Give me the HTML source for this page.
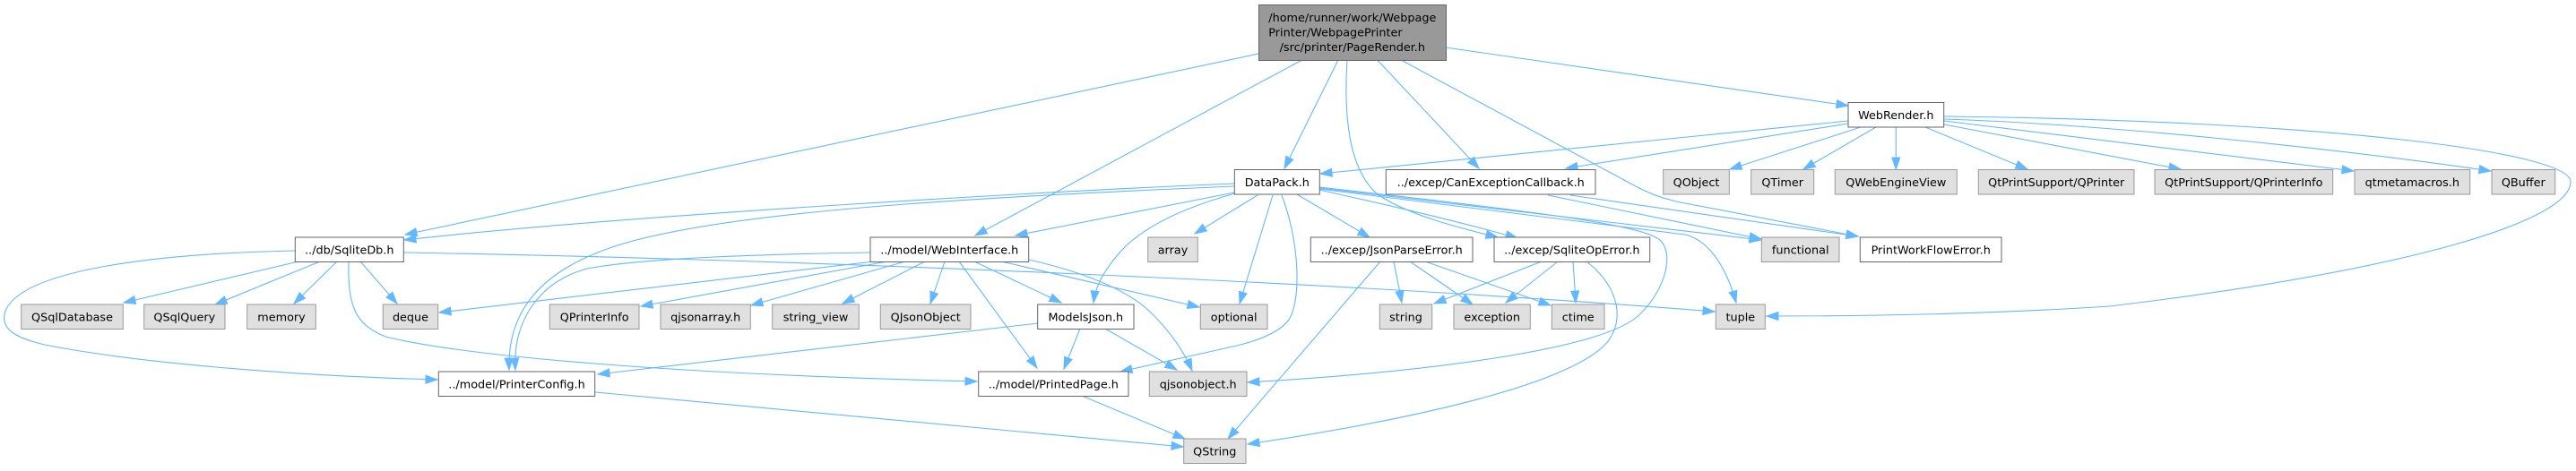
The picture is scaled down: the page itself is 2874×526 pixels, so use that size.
<!DOCTYPE html>
<html>
<head>
<meta charset="utf-8">
<style>
html,body{margin:0;padding:0;background:#fff;}
body{width:2874px;height:526px;overflow:hidden;}
svg{display:block;}
.e{fill:none;stroke:#63b8ff;stroke-width:1.1;}
.w{fill:#ffffff;stroke:#666666;stroke-width:1;}
.g{fill:#e0e0e0;stroke:#999999;stroke-width:1;}
.r{fill:#999999;stroke:#666666;stroke-width:1;}
text{font-family:"DejaVu Sans","Liberation Sans",sans-serif;font-size:12.8px;fill:#000;}
.c{text-anchor:middle;}
</style>
</head>
<body>
<svg width="2874" height="526" viewBox="0 0 2874 526" xmlns="http://www.w3.org/2000/svg">
<defs>
<marker id="ah" markerUnits="userSpaceOnUse" markerWidth="16" markerHeight="12" refX="13" refY="5" orient="auto" viewBox="0 0 16 12" overflow="visible">
<path d="M0,0.5 L13,5 L0,9.5 Z" fill="#63b8ff" stroke="#63b8ff" stroke-width="1"/>
</marker>
</defs>

<!-- ===== Edges ===== -->
<g class="edges">
<!-- PageRender -->
<path class="e" marker-end="url(#ah)" d="M1404,60 L452,262"/>
<path class="e" marker-end="url(#ah)" d="M1452.7,67 L1088,263"/>
<path class="e" marker-end="url(#ah)" d="M1493,67 L1433,188"/>
<path class="e" marker-end="url(#ah)" d="M1503,67 C1499,130 1505,190 1537,217 C1570,240 1630,255 1671,265"/>
<path class="e" marker-end="url(#ah)" d="M1536.7,67 L1650,188"/>
<path class="e" marker-end="url(#ah)" d="M1565,68 L1825,208 Q1845,219 1870,225 L2073,264"/>
<path class="e" marker-end="url(#ah)" d="M1613,53 L2062,118"/>

<!-- WebRender -->
<path class="e" marker-end="url(#ah)" d="M2062,135 L1473,194"/>
<path class="e" marker-end="url(#ah)" d="M2062,138 L1747,188"/>
<path class="e" marker-end="url(#ah)" d="M2076,142 L1930,189"/>
<path class="e" marker-end="url(#ah)" d="M2093,142 L2012,189"/>
<path class="e" marker-end="url(#ah)" d="M2115.3,142 L2115.3,189"/>
<path class="e" marker-end="url(#ah)" d="M2148,142 L2262,189"/>
<path class="e" marker-end="url(#ah)" d="M2169,139 L2433,189"/>
<path class="e" marker-end="url(#ah)" d="M2169,135 L2626,191"/>
<path class="e" marker-end="url(#ah)" d="M2169,133 C2350,139 2600,165 2779,191"/>
<path class="e" marker-end="url(#ah)" d="M2169,130 C2600,135 2868,170 2868,203 C2868,245 2700,300 2354,342 C2200,352 2050,353 1971,353"/>

<!-- DataPack -->
<path class="e" marker-end="url(#ah)" d="M1377,205 C1200,212 700,240 451,268"/>
<path class="e" marker-end="url(#ah)" d="M1377,208 C1100,220 800,235 680,277 C600,305 566,350 568,413"/>
<path class="e" marker-end="url(#ah)" d="M1377,215 L1133,263"/>
<path class="e" marker-end="url(#ah)" d="M1378,216 C1320,232 1270,255 1245,287 C1228,308 1222,322 1220,338"/>
<path class="e" marker-end="url(#ah)" d="M1403,218 L1333,261"/>
<path class="e" marker-end="url(#ah)" d="M1420,218 L1383,339"/>
<path class="e" marker-end="url(#ah)" d="M1430,218 C1450,270 1452,335 1438,357 Q1425,375 1380,386 L1250,415"/>
<path class="e" marker-end="url(#ah)" d="M1447,217 L1528,265"/>
<path class="e" marker-end="url(#ah)" d="M1472,212 C1530,225 1620,245 1693,266"/>
<path class="e" marker-end="url(#ah)" d="M1472,210 L1965,268"/>
<path class="e" marker-end="url(#ah)" d="M1472,209 C1700,235 1830,250 1852,268 C1870,285 1855,330 1825,355 C1780,390 1600,415 1392,427"/>
<path class="e" marker-end="url(#ah)" d="M1472,211 L1880,262 C1905,268 1925,295 1937,338"/>

<!-- CanExceptionCallback -->
<path class="e" marker-end="url(#ah)" d="M1727,218 L1965,267"/>
<path class="e" marker-end="url(#ah)" d="M1752,218 L2073,264"/>

<!-- WebInterface -->
<path class="e" marker-end="url(#ah)" d="M971,282 C850,284 720,288 655,300 C600,315 572,360 575,413"/>
<path class="e" marker-end="url(#ah)" d="M975,292 L490,349"/>
<path class="e" marker-end="url(#ah)" d="M990,292 L715,342"/>
<path class="e" marker-end="url(#ah)" d="M1010,292 L838,341"/>
<path class="e" marker-end="url(#ah)" d="M1032,292 L940,339"/>
<path class="e" marker-end="url(#ah)" d="M1054,292 L1038,339"/>
<path class="e" marker-end="url(#ah)" d="M1070,292 L1157,411"/>
<path class="e" marker-end="url(#ah)" d="M1087,292 L1184,338"/>
<path class="e" marker-end="url(#ah)" d="M1117,292 L1338,343"/>
<path class="e" marker-end="url(#ah)" d="M1148,290 C1200,302 1255,320 1285,350 C1305,370 1320,390 1330,414"/>

<!-- SqliteDb -->
<path class="e" marker-end="url(#ah)" d="M333,292 L138,338"/>
<path class="e" marker-end="url(#ah)" d="M357,292 L240,340"/>
<path class="e" marker-end="url(#ah)" d="M376,292 L328,339"/>
<path class="e" marker-end="url(#ah)" d="M402,292 L443,339"/>
<path class="e" marker-end="url(#ah)" d="M450,282 C900,290 1500,315 1913,348"/>
<path class="e" marker-end="url(#ah)" d="M329,280 C180,283 30,300 7,345 C-3,368 20,378 50,385 C150,405 330,420 488,424"/>
<path class="e" marker-end="url(#ah)" d="M389,292 C388,340 395,362 430,376 C520,398 750,418 1090,426"/>

<!-- ModelsJson -->
<path class="e" marker-end="url(#ah)" d="M1158,361 L667,418"/>
<path class="e" marker-end="url(#ah)" d="M1205,367 L1187,412"/>
<path class="e" marker-end="url(#ah)" d="M1233,367 L1313,413"/>

<!-- PrinterConfig / PrintedPage -->
<path class="e" marker-end="url(#ah)" d="M664,438 L1320,499"/>
<path class="e" marker-end="url(#ah)" d="M1207,442 L1322,490"/>

<!-- JsonParseError -->
<path class="e" marker-end="url(#ah)" d="M1540,292 L1370,490"/>
<path class="e" marker-end="url(#ah)" d="M1555,292 L1564,338"/>
<path class="e" marker-end="url(#ah)" d="M1573,292 L1643,340"/>
<path class="e" marker-end="url(#ah)" d="M1590,292 L1730,341"/>

<!-- SqliteOpError -->
<path class="e" marker-end="url(#ah)" d="M1720,292 L1600,339"/>
<path class="e" marker-end="url(#ah)" d="M1738,292 L1680,338"/>
<path class="e" marker-end="url(#ah)" d="M1755,292 L1758,338"/>
<path class="e" marker-end="url(#ah)" d="M1770,292 C1800,315 1815,350 1795,380 C1760,425 1600,465 1392,496"/>
</g>

<!-- ===== Nodes ===== -->
<!-- Root -->
<rect class="r" x="1404.5" y="5.5" width="209" height="62"/>
<text x="1415.3" y="24">/home/runner/work/Webpage</text>
<text x="1415.3" y="40.5">Printer/WebpagePrinter</text>
<text class="c" x="1508.8" y="57">/src/printer/PageRender.h</text>

<!-- Row 1 -->
<rect class="w" x="2062" y="114.5" width="106.7" height="27.5"/>
<text class="c" x="2115.3" y="132.8">WebRender.h</text>

<!-- Row 2 -->
<rect class="w" x="1377.3" y="189.5" width="95" height="27.5"/>
<text class="c" x="1424.8" y="207.8">DataPack.h</text>
<rect class="w" x="1546.3" y="189.5" width="233.7" height="27.5"/>
<text class="c" x="1663.2" y="207.8">../excep/CanExceptionCallback.h</text>
<rect class="g" x="1855.7" y="189.5" width="73.6" height="27.5"/>
<text class="c" x="1892.5" y="207.8">QObject</text>
<rect class="g" x="1953.7" y="189.5" width="70" height="27.5"/>
<text class="c" x="1988.7" y="207.8">QTimer</text>
<rect class="g" x="2047.3" y="189.5" width="136" height="27.5"/>
<text class="c" x="2115.3" y="207.8">QWebEngineView</text>
<rect class="g" x="2207.3" y="189.5" width="173.7" height="27.5"/>
<text class="c" x="2294.2" y="207.8">QtPrintSupport/QPrinter</text>
<rect class="g" x="2404" y="189.5" width="198.7" height="27.5"/>
<text class="c" x="2503.3" y="207.8">QtPrintSupport/QPrinterInfo</text>
<rect class="g" x="2627" y="189.5" width="128.7" height="27.5"/>
<text class="c" x="2691.3" y="207.8">qtmetamacros.h</text>
<rect class="g" x="2780" y="189.5" width="70.7" height="27.5"/>
<text class="c" x="2815.3" y="207.8">QBuffer</text>

<!-- Row 3 -->
<rect class="w" x="329.3" y="265" width="121" height="27.5"/>
<text class="c" x="389.8" y="283.3">../db/SqliteDb.h</text>
<rect class="w" x="971" y="265" width="176.7" height="27.5"/>
<text class="c" x="1059.3" y="283.3">../model/WebInterface.h</text>
<rect class="g" x="1280.7" y="265" width="55.6" height="27.5"/>
<text class="c" x="1308.5" y="283.3">array</text>
<rect class="w" x="1462.3" y="265" width="180.7" height="27.5"/>
<text class="c" x="1552.7" y="283.3">../excep/JsonParseError.h</text>
<rect class="w" x="1667" y="265" width="173.7" height="27.5"/>
<text class="c" x="1753.8" y="283.3">../excep/SqliteOpError.h</text>
<rect class="g" x="1965.3" y="265" width="86.7" height="27.5"/>
<text class="c" x="2008.7" y="283.3">functional</text>
<rect class="w" x="2075.3" y="265" width="157.7" height="27.5"/>
<text class="c" x="2154.2" y="283.3">PrintWorkFlowError.h</text>

<!-- Row 4 -->
<rect class="g" x="23.7" y="340" width="113.6" height="27.5"/>
<text class="c" x="80.5" y="358.3">QSqlDatabase</text>
<rect class="g" x="160.7" y="340" width="90.3" height="27.5"/>
<text class="c" x="205.8" y="358.3">QSqlQuery</text>
<rect class="g" x="275.7" y="340" width="76.6" height="27.5"/>
<text class="c" x="314" y="358.3">memory</text>
<rect class="g" x="427.3" y="340" width="61.4" height="27.5"/>
<text class="c" x="458" y="358.3">deque</text>
<rect class="g" x="613.3" y="340" width="99.7" height="27.5"/>
<text class="c" x="663.2" y="358.3">QPrinterInfo</text>
<rect class="g" x="737" y="340" width="100.3" height="27.5"/>
<text class="c" x="787.2" y="358.3">qjsonarray.h</text>
<rect class="g" x="861.7" y="340" width="96.6" height="27.5"/>
<text class="c" x="910" y="358.3">string_view</text>
<rect class="g" x="982.3" y="340" width="100.7" height="27.5"/>
<text class="c" x="1032.7" y="358.3">QJsonObject</text>
<rect class="w" x="1157.7" y="340" width="107.3" height="27.5"/>
<text class="c" x="1211.3" y="358.3">ModelsJson.h</text>
<rect class="g" x="1339.3" y="340" width="74.7" height="27.5"/>
<text class="c" x="1376.7" y="358.3">optional</text>
<rect class="g" x="1539.3" y="340" width="58.4" height="27.5"/>
<text class="c" x="1568.5" y="358.3">string</text>
<rect class="g" x="1622" y="340" width="85.3" height="27.5"/>
<text class="c" x="1664.7" y="358.3">exception</text>
<rect class="g" x="1731.3" y="340" width="58.7" height="27.5"/>
<text class="c" x="1760.7" y="358.3">ctime</text>
<rect class="g" x="1914.3" y="340" width="55" height="27.5"/>
<text class="c" x="1941.8" y="358.3">tuple</text>

<!-- Row 5 -->
<rect class="w" x="489.3" y="415" width="174.4" height="27.5"/>
<text class="c" x="576.5" y="433.3">../model/PrinterConfig.h</text>
<rect class="w" x="1091.7" y="415" width="167.3" height="27.5"/>
<text class="c" x="1175.3" y="433.3">../model/PrintedPage.h</text>
<rect class="g" x="1282.3" y="415" width="108.7" height="27.5"/>
<text class="c" x="1336.7" y="433.3">qjsonobject.h</text>

<!-- Row 6 -->
<rect class="g" x="1320.7" y="490" width="69.3" height="27.5"/>
<text class="c" x="1355.3" y="508.3">QString</text>
</svg>
</body>
</html>
